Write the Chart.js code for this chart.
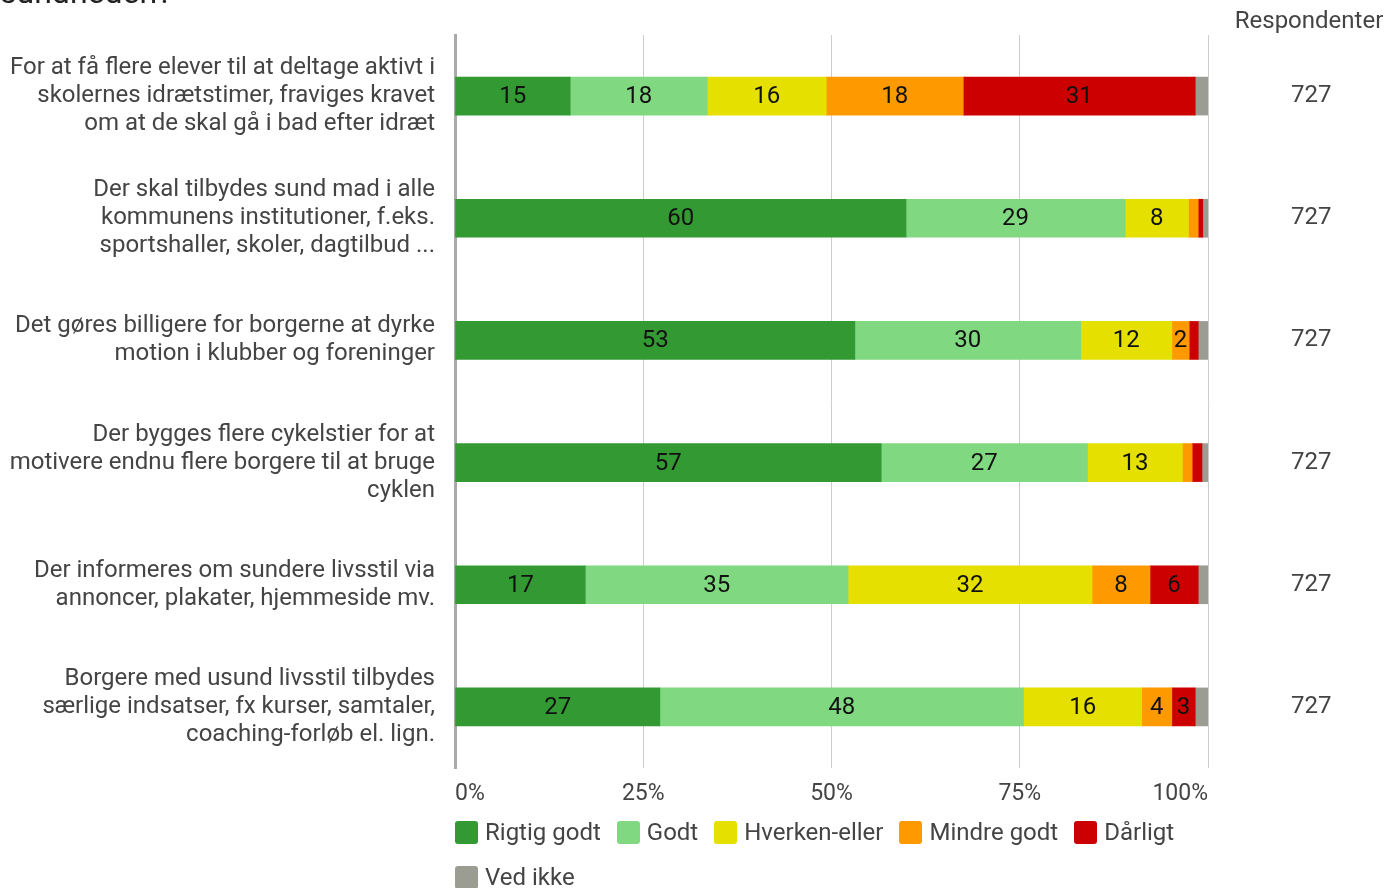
<!DOCTYPE html>
<html>
<head>
<meta charset="utf-8">
<script src="https://cdn.jsdelivr.net/npm/chart.js@4.4.1/dist/chart.umd.min.js"></script>
<style>
  body { margin: 0; background: #fff; font-family: Roboto, sans-serif; overflow: hidden; }
  #wrap { position: relative; width: 1400px; height: 888px; }
  #cut-title { position: absolute; left: 0; top: -27px; font-size: 32px; color: #222; white-space: nowrap; }
  #legend { position: absolute; left: 455px; top: 818px; width: 760px; display: flex; flex-wrap: wrap; row-gap: 17px; }
  .item { display: flex; align-items: center; margin-right: 16px; font-size: 24px; color: #444; height: 28px; }
  .box { width: 23px; height: 23px; border-radius: 3px; margin-right: 7px; }
</style>
</head>
<body>
<div id="wrap">
  <div id="cut-title">sundheden?</div>
  <canvas id="chart" width="1400" height="888"></canvas>
  <div id="legend"></div>
</div>
<script>
// Svar i procent, en værdi pr. forslag (samme rækkefølge som categories)
var categories = [
  ['For at få flere elever til at deltage aktivt i', 'skolernes idrætstimer, fraviges kravet', 'om at de skal gå i bad efter idræt'],
  ['Der skal tilbydes sund mad i alle', 'kommunens institutioner, f.eks.', 'sportshaller, skoler, dagtilbud ...'],
  ['Det gøres billigere for borgerne at dyrke', 'motion i klubber og foreninger'],
  ['Der bygges flere cykelstier for at', 'motivere endnu flere borgere til at bruge', 'cyklen'],
  ['Der informeres om sundere livsstil via', 'annoncer, plakater, hjemmeside mv.'],
  ['Borgere med usund livsstil tilbydes', 'særlige indsatser, fx kurser, samtaler,', 'coaching-forløb el. lign.']
];
var respondents = ['727', '727', '727', '727', '727', '727'];

var seriesNames = ['Rigtig godt', 'Godt', 'Hverken-eller', 'Mindre godt', 'Dårligt', 'Ved ikke'];
var rigtigGodt = [15.3, 59.9, 53.1, 56.6, 17.3, 27.2];
var godt = [18.2, 29.1, 30.0, 27.4, 34.9, 48.3];
var hverkenEller = [15.8, 8.4, 12.1, 12.6, 32.4, 15.7];
var mindreGodt = [18.2, 1.3, 2.3, 1.3, 7.7, 4.0];
var daarligt = [30.8, 0.6, 1.2, 1.3, 6.4, 3.1];
var vedIkke = [1.7, 0.7, 1.3, 0.8, 1.3, 1.7];

var xTicks = [0, 25, 50, 75, 100];
var colors = ['#339933', '#80d880', '#e5e000', '#ff9900', '#cc0000', '#9b9d93'];

Chart.defaults.font.family = 'Roboto';
Chart.defaults.color = '#444';

var seriesData = [rigtigGodt, godt, hverkenEller, mindreGodt, daarligt, vedIkke];
var datasets = seriesData.map(function (d, i) {
  return {
    label: seriesNames[i],
    data: d,
    backgroundColor: colors[i],
    borderWidth: 0,
    barThickness: 38
  };
});

// numbers inside segments (only when there is room)
var segmentLabels = {
  id: 'segmentLabels',
  afterDatasetsDraw: function (chart) {
    var ctx = chart.ctx;
    ctx.save();
    ctx.font = '24px Roboto';
    ctx.fillStyle = '#111';
    ctx.textAlign = 'center';
    ctx.textBaseline = 'middle';
    chart.data.datasets.forEach(function (ds, di) {
      var meta = chart.getDatasetMeta(di);
      meta.data.forEach(function (bar, i) {
        var v = ds.data[i];
        if (v < 2) return;
        ctx.fillText(String(Math.round(v)), (bar.x + bar.base) / 2, bar.y + 1);
      });
    });
    ctx.restore();
  }
};

// "Respondenter" header over the right column
var respondentHeader = {
  id: 'respondentHeader',
  afterDraw: function (chart) {
    var ctx = chart.ctx;
    ctx.save();
    ctx.font = '24px Roboto';
    ctx.fillStyle = '#444';
    ctx.textAlign = 'center';
    ctx.textBaseline = 'middle';
    ctx.fillText('Respondenter', 1309, 22);
    ctx.restore();
  }
};

function noPad(scale) {
  scale.paddingTop = 0;
  scale.paddingBottom = 0;
}

new Chart(document.getElementById('chart'), {
  type: 'bar',
  data: { labels: categories, datasets: datasets },
  plugins: [segmentLabels, respondentHeader],
  options: {
    indexAxis: 'y',
    responsive: false,
    animation: false,
    layout: { padding: { top: 35, right: 0, bottom: 0, left: 0 } },
    plugins: {
      legend: { display: false },
      tooltip: { enabled: false }
    },
    scales: {
      x: {
        stacked: true,
        min: 0,
        max: 100,
        afterBuildTicks: function (scale) {
          scale.ticks = xTicks.map(function (v) { return { value: v }; });
        },
        afterFit: function (scale) {
          scale.height = 120;
          scale.paddingLeft = 0;
          scale.paddingRight = 0;
        },
        grid: {
          color: function (c) { return c.tick && c.tick.value === 0 ? 'rgba(0,0,0,0)' : '#cccccc'; },
          drawTicks: false
        },
        border: { display: false },
        ticks: {
          padding: 12,
          align: 'inner',
          font: { size: 23 },
          color: '#444',
          callback: function (v) { return v + '%'; }
        }
      },
      y: {
        stacked: true,
        afterFit: function (scale) { scale.width = 455; noPad(scale); },
        grid: { display: false, drawTicks: false },
        border: { display: true, color: '#aaaaaa', width: 3 },
        ticks: {
          padding: 20,
          font: { size: 24, lineHeight: 1.17 },
          color: '#444'
        }
      },
      y2: {
        type: 'category',
        labels: respondents,
        position: 'right',
        offset: true,
        afterFit: function (scale) { scale.width = 192; noPad(scale); },
        grid: { display: false, drawTicks: false },
        border: { display: false },
        ticks: { padding: 83, font: { size: 24 }, color: '#444' }
      }
    }
  }
});

var legend = document.getElementById('legend');
seriesNames.forEach(function (name, i) {
  var item = document.createElement('div');
  item.className = 'item';
  var box = document.createElement('span');
  box.className = 'box';
  box.style.background = colors[i];
  var txt = document.createElement('span');
  txt.textContent = name;
  item.appendChild(box);
  item.appendChild(txt);
  legend.appendChild(item);
});
</script>
</body>
</html>
